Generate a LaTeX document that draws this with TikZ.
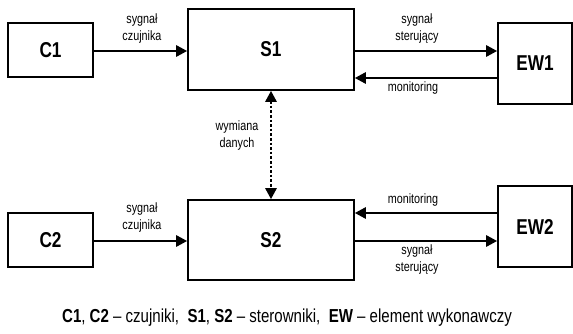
\documentclass[tikz,border=0pt]{standalone}
\usepackage{fontspec}
\setmainfont{Liberation Sans}[FakeStretch=0.8]
\usetikzlibrary{arrows.meta}
\tikzset{
  blk/.style={draw, line width=1.6pt, inner sep=0pt, font=\bfseries\fontsize{21.5}{22}\selectfont},
  arr/.style={line width=2.6pt, -{Triangle[length=11pt,width=11pt]}},
  darr/.style={line width=2.6pt, dotted, {Triangle[length=11pt,width=11pt]}-{Triangle[length=11pt,width=11pt]}},
  lbl/.style={font=\fontsize{13.5}{17}\selectfont, align=center, inner sep=0pt}
}
\begin{document}
\begin{tikzpicture}[x=1pt,y=-1pt]
\useasboundingbox (0,0) rectangle (573,334);
\node[blk, minimum width=85pt, minimum height=54pt] (C1) at (50.5,50) {C1};
\node[blk, minimum width=166pt, minimum height=81pt] (S1) at (271,49.5) {S1};
\node[blk, minimum width=74pt, minimum height=81pt] (EW1) at (535,63.5) {EW1};
\node[blk, minimum width=85pt, minimum height=54pt] (C2) at (50.5,240) {C2};
\node[blk, minimum width=166pt, minimum height=80pt] (S2) at (271,240) {S2};
\node[blk, minimum width=74pt, minimum height=81pt] (EW2) at (535,226.5) {EW2};
\coordinate (y1) at (0,51);
\coordinate (y2) at (0,78);
\coordinate (y3) at (0,213);
\coordinate (y4) at (0,241);
\draw[arr] (C1.east |- y1) -- (S1.west |- y1);
\draw[arr] (S1.east |- y1) -- (EW1.west |- y1);
\draw[arr] (EW1.west |- y2) -- (S1.east |- y2);
\draw[arr] (C2.east |- y4) -- (S2.west |- y4);
\draw[arr] (EW2.west |- y3) -- (S2.east |- y3);
\draw[arr] (S2.east |- y4) -- (EW2.west |- y4);
\draw[darr] (S1.south) -- (S2.north);
\node[lbl] (l1) at (142,28.5) {sygnał\\czujnika};
\node[lbl] (l2) at (417,28.5) {sygnał\\sterujący};
\node[lbl] (l3) at (413,88) {monitoring};
\node[lbl] (l4) at (237,136) {wymiana\\danych};
\node[lbl] (l5) at (142,218) {sygnał\\czujnika};
\node[lbl] (l6) at (413,200) {monitoring};
\node[lbl] (l7) at (417,260) {sygnał\\sterujący};
\node[font=\fontsize{18.8}{21}\selectfont, inner sep=0pt] (cap) at (287,318) {\textbf{C1}, \textbf{C2} -- czujniki,\ \ \textbf{S1}, \textbf{S2} -- sterowniki,\ \ \textbf{EW} -- element wykonawczy};
\end{tikzpicture}
\end{document}
